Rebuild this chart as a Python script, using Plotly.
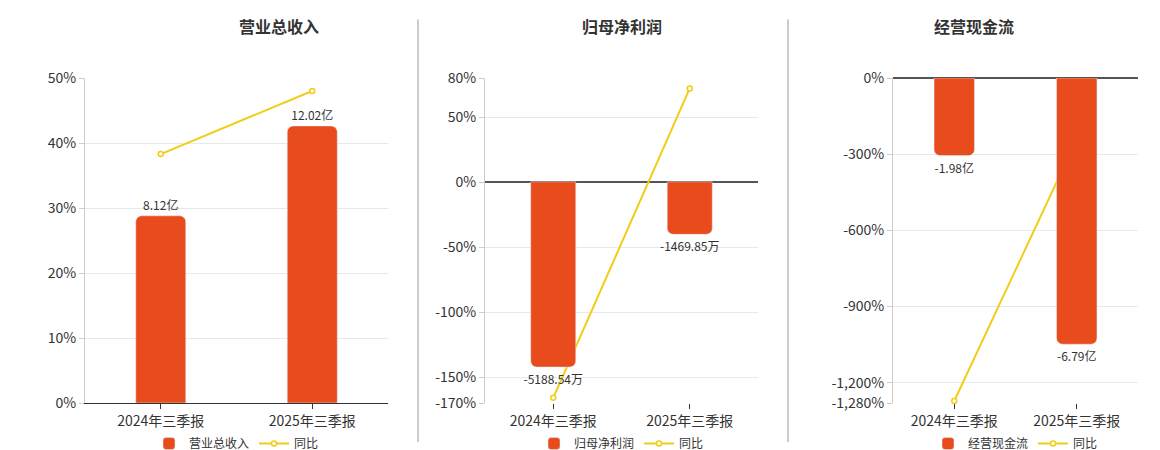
import plotly.graph_objects as go

categories = ["2024年三季报", "2025年三季报"]

titles = ["营业总收入", "归母净利润", "经营现金流"]

revenue = [8.12, 12.02]          # 亿
revenue_text = ["8.12亿", "12.02亿"]
revenue_yoy = [38.3, 48.0]

profit = [-5188.54, -1469.85]    # 万
profit_text = ["-5188.54万", "-1469.85万"]
profit_yoy = [-166.0, 72.0]

cash = [-1.98, -6.79]            # 亿
cash_text = ["-1.98亿", "-6.79亿"]
cash_yoy = [-1272.0, -241.0]

bar_color = "#E84B1C"
line_color = "#F2CC16"

panels = [
    dict(bars=revenue, text=revenue_text, yoy=revenue_yoy, dom=[77, 380],
         prange=[0, 50], ticks=[0, 10, 20, 30, 40, 50], brange=[0, 14.1], zero=False),
    dict(bars=profit, text=profit_text, yoy=profit_yoy, dom=[477, 750],
         prange=[-170, 80], ticks=[-170, -150, -100, -50, 0, 50, 80], brange=[-6194, 2907], zero=True),
    dict(bars=cash, text=cash_text, yoy=cash_yoy, dom=[885, 1130],
         prange=[-1280, 0], ticks=[-1280, -1200, -900, -600, -300, 0], brange=[-8.29, 0], zero=True),
]

fig = go.Figure()
layout = {}
annotations = []
W = 1160
for i, p in enumerate(panels):
    n = i + 1
    xa = "x" if n == 1 else f"x{n}"
    ya_line = f"y{2 * n - 1}" if n > 1 else "y"
    ya_bar = f"y{2 * n}"
    leg = "legend" if n == 1 else f"legend{n}"
    dom = [p["dom"][0] / W, p["dom"][1] / W]

    fig.add_trace(go.Bar(
        x=categories, y=p["bars"], text=p["text"], textposition="outside",
        textfont=dict(size=12, color="#333"), constraintext="none",
        marker=dict(color=bar_color, cornerradius=6),
        width=0.33, name=titles[i], xaxis=xa, yaxis=ya_bar, legend=leg, cliponaxis=False,
    ))
    fig.add_trace(go.Scatter(
        x=categories, y=p["yoy"], mode="lines+markers", name="同比",
        line=dict(color=line_color, width=2),
        marker=dict(size=5, color="white", line=dict(color=line_color, width=1.5)),
        xaxis=xa, yaxis=ya_line, legend=leg, cliponaxis=False,
    ))

    xkey = "xaxis" if n == 1 else f"xaxis{n}"
    ykey_line = "yaxis" if n == 1 else f"yaxis{2 * n - 1}"
    ykey_bar = f"yaxis{2 * n}"
    layout[xkey] = dict(domain=dom, anchor=ya_line, showline=not p["zero"], linecolor="#333",
                        ticks="outside", tickcolor="#333", tickfont=dict(size=14, color="#333"),
                        showgrid=False)
    tick_text = [f"{t:,}%" for t in p["ticks"]]
    layout[ykey_line] = dict(range=p["prange"], tickvals=p["ticks"], ticktext=tick_text, anchor=xa,
                             tickfont=dict(size=14, color="#333"), gridcolor="#E6E8EE",
                             zeroline=p["zero"], zerolinecolor="#555", zerolinewidth=1.5,
                             showline=True, linecolor="#ccc", ticks="outside", tickcolor="#ccc")
    layout[ykey_bar] = dict(range=p["brange"], overlaying=ya_line, anchor=xa, visible=False, showgrid=False)
    layout[leg] = dict(orientation="h", x=(dom[0] + dom[1]) / 2, xanchor="center",
                       y=-0.08, yanchor="top", font=dict(size=12, color="#333"))
    annotations.append(dict(text=f"<b>{titles[i]}</b>", x=(dom[0] + dom[1]) / 2, xref="paper",
                            y=1.0, yref="paper", yanchor="bottom", yshift=38, showarrow=False,
                            font=dict(size=16, color="#333")))

shapes = [dict(type="line", xref="paper", yref="paper", x0=x / W, x1=x / W, y0=-0.12, y1=1.18,
               line=dict(color="#999", width=1)) for x in (410, 780)]

fig.update_layout(**layout)
fig.update_layout(
    width=1160, height=450, margin=dict(l=0, r=0, t=70, b=45),
    plot_bgcolor="white", paper_bgcolor="white", annotations=annotations, shapes=shapes,
    font=dict(family="Noto Sans CJK SC, DejaVu Sans"), barmode="group",
)
fig.write_html("out.html")
